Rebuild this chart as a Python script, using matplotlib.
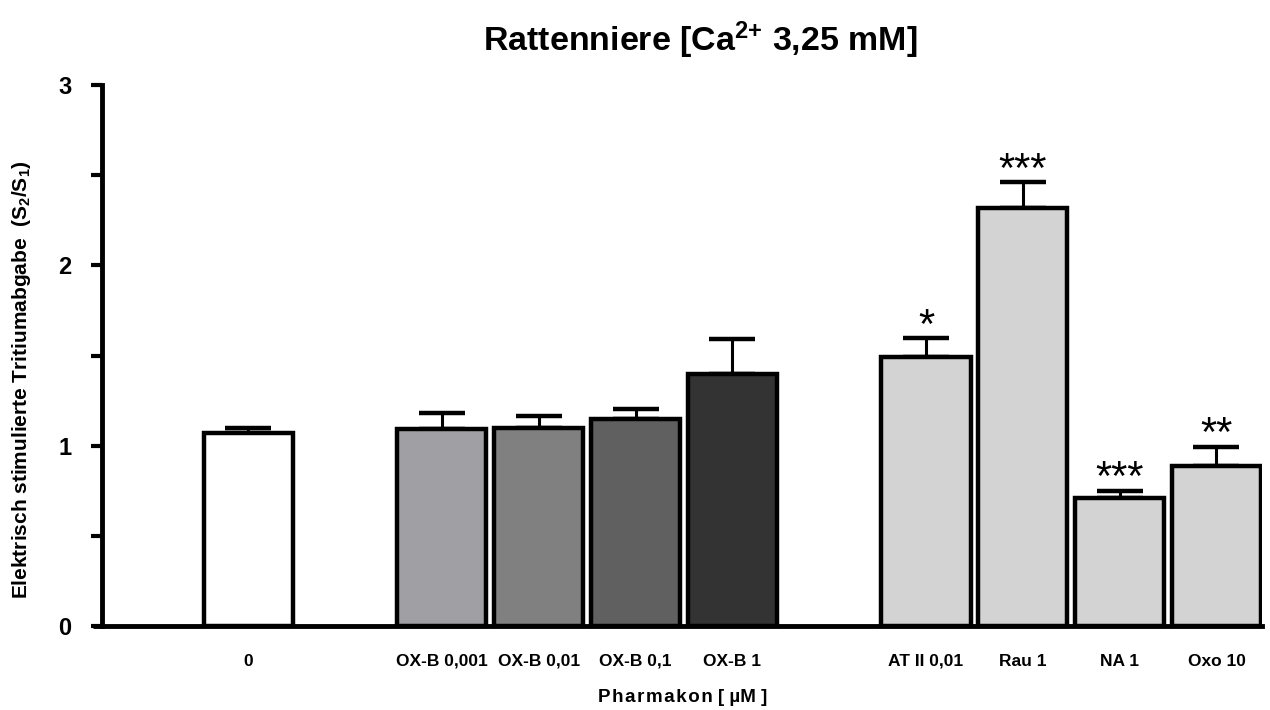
import matplotlib
matplotlib.use("Agg")
import matplotlib.pyplot as plt
import numpy as np

categories = ["0", "OX-B 0,001", "OX-B 0,01", "OX-B 0,1", "OX-B 1",
              "AT II 0,01", "Rau 1", "NA 1", "Oxo 10"]
positions = [0, 2, 3, 4, 5, 7, 8, 9, 10]
values = [1.07, 1.09, 1.10, 1.15, 1.40, 1.49, 2.32, 0.71, 0.89]
errors = [0.03, 0.09, 0.065, 0.055, 0.19, 0.105, 0.14, 0.04, 0.105]
colors = ["#ffffff", "#a0a0a4", "#808080", "#606060", "#333333",
          "#d3d3d3", "#d3d3d3", "#d3d3d3", "#d3d3d3"]
stars = ["", "", "", "", "", "*", "***", "***", "**"]
y_ticks = [0, 0.5, 1, 1.5, 2, 2.5, 3]
y_labels = ["0", "", "1", "", "2", "", "3"]

plt.rcParams['font.family'] = ['Liberation Sans', 'DejaVu Sans']
plt.rcParams['mathtext.fontset'] = 'custom'
plt.rcParams['mathtext.rm'] = 'Liberation Sans:bold'
plt.rcParams['mathtext.bf'] = 'Liberation Sans:bold'
plt.rcParams['mathtext.it'] = 'Liberation Sans:bold'

fig = plt.figure(figsize=(12.7, 7.1), dpi=100)
ax = fig.add_axes([102/1270, 1-626/710, (1262-102)/1270, (626-85)/710])

ax.bar(positions, values, width=0.92, color=colors, edgecolor="black",
       linewidth=3.2, zorder=2)
ax.errorbar(positions, values, yerr=[np.zeros(len(errors)), errors], fmt="none",
            ecolor="black", elinewidth=2.2, capsize=16.5, capthick=3.2, zorder=1)

for x, v, e, s in zip(positions, values, errors, stars):
    if s:
        ax.annotate(s, (x, v + e), xytext=(0, -6), textcoords="offset points",
                    ha="center", va="bottom", fontsize=30)

ax.set_xlim(-1.51, 10.47)
ax.set_ylim(0, 3)
ax.set_xticks(positions)
ax.set_xticklabels(categories, fontsize=12.5, fontweight="bold")
ax.tick_params(axis="x", length=0, pad=20)
ax.set_yticks(y_ticks)
ax.set_yticklabels(y_labels, fontsize=17, fontweight="bold")
ax.tick_params(axis="y", length=8, width=3, direction="out", pad=14)

for side in ["top", "right"]:
    ax.spines[side].set_visible(False)
ax.spines["left"].set_linewidth(3.5)
ax.spines["bottom"].set_linewidth(3.5)
ax.plot([-1.6, -1.51], [0, 0], color="black", lw=3.5, clip_on=False,
        solid_capstyle="butt")

fig.text(700/1270, 1 - 40/710, "Rattenniere [Ca$^{2{+}}$ 3,25 mM]", fontsize=24.5,
         fontweight="bold", ha="center", va="center")
fig.text(683/1270, 1 - 698/710, "\u200a".join("Pharmakon") + " [ µM ]",
         fontsize=13.5, fontweight="bold", ha="center", va="center")
fig.text(22/1270, 1 - 380/710,
         "Elektrisch stimulierte Tritiumabgabe  (S$_2$/S$_1$)",
         fontsize=15, fontweight="bold", ha="center", va="center", rotation=90)

fig.savefig("out.png", dpi=100)
